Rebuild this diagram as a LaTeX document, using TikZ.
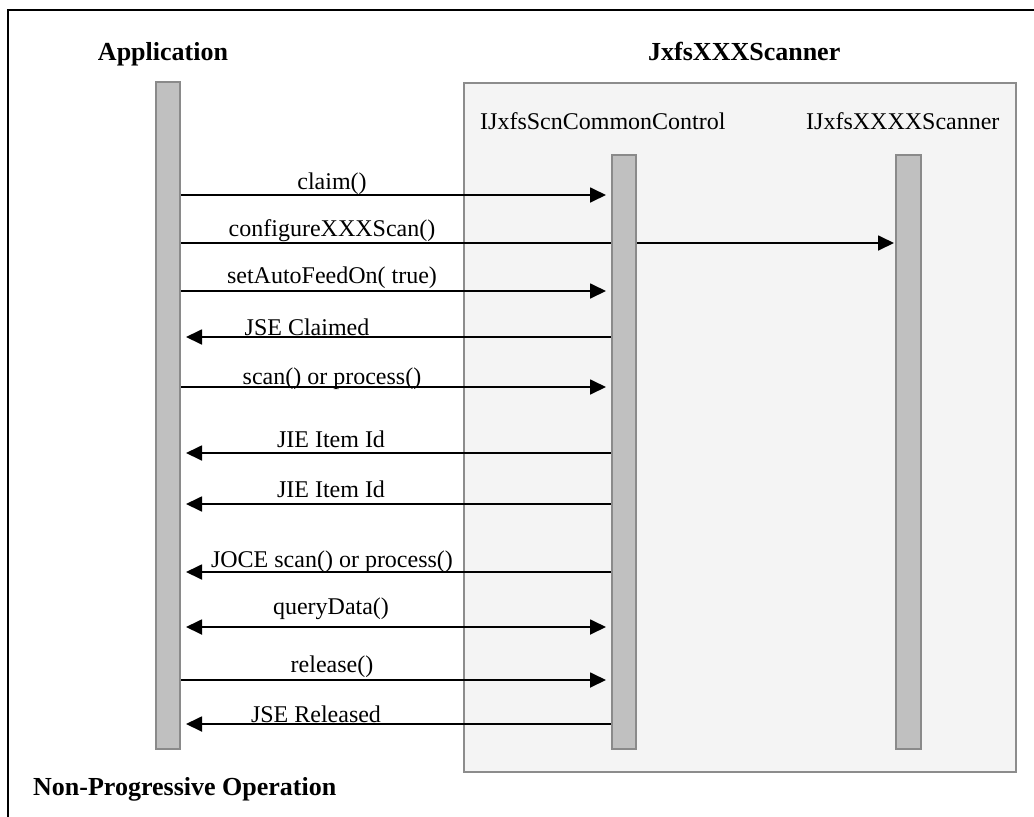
\documentclass[tikz,border=0pt]{standalone}
\usepackage{fontspec}
\setmainfont{Liberation Serif}
\usetikzlibrary{arrows.meta}
\definecolor{barfill}{HTML}{C0C0C0}
\definecolor{barline}{HTML}{8A8A8A}
\definecolor{boxfill}{HTML}{F4F4F4}
\definecolor{boxline}{HTML}{8C8C8C}
\pgfdeclarelayer{back}
\pgfdeclarelayer{mid}
\pgfsetlayers{back,mid,main}
\begin{document}
\begin{tikzpicture}[x=1pt,y=-1pt,
  lifebar/.style={draw=barline,fill=barfill,line width=2pt,inner sep=0pt,minimum width=24pt},
  groupbox/.style={draw=boxline,fill=boxfill,line width=2pt,inner sep=0pt},
  title/.style={font=\fontsize{26}{30}\selectfont\bfseries,inner sep=0pt},
  objname/.style={font=\fontsize{24}{28}\selectfont,inner sep=0pt,anchor=base west},
  msglabel/.style={font=\fontsize{24}{28}\selectfont,inner sep=0pt,anchor=base},
  msg/.style={line width=1.8pt,-{Triangle[length=16pt,width=15pt]},shorten >=5pt},
  twoway/.style={line width=1.8pt,{Triangle[length=16pt,width=15pt]}-{Triangle[length=16pt,width=15pt]},shorten >=5pt,shorten <=5pt}]
\useasboundingbox (0,0) rectangle (1034,817);

% page background and component group
\begin{pgfonlayer}{back}
\fill[white] (0,0) rectangle (1034,817);
\node[groupbox,minimum width=552pt,minimum height=689pt] (grp) at (740,427.5) {};
\end{pgfonlayer}

% outer frame, open to the right and below
\draw[line width=2.2pt] (8,10) rectangle (1045,830);

% titles
\node[title,anchor=base] (tapp) at (163,60) {Application};
\node[title,anchor=base west] (tscn) at (648,60) {JxfsXXXScanner};
\node[title,anchor=base west] (tmode) at (33,795) {Non-Progressive Operation};
\node[objname] (nctl) at (480,129) {IJxfsScnCommonControl};
\node[objname] (nscn) at (806,129) {IJxfsXXXXScanner};

% lifelines
\node[lifebar,minimum height=667pt] (app) at (168,415.5) {};
\node[lifebar,minimum height=594pt] (ctl) at (624,452) {};
\node[lifebar,minimum height=594pt,minimum width=25pt] (scn) at (908.5,452) {};

% messages
\begin{pgfonlayer}{mid}
\draw[msg] (app.east |- 0,195) -- (ctl.west |- 0,195);
\draw[msg,shorten >=1pt] (app.east |- 0,243) -- (scn.west |- 0,243);
\draw[msg] (app.east |- 0,291) -- (ctl.west |- 0,291);
\draw[msg] (ctl.west |- 0,337) -- (app.east |- 0,337);
\draw[msg] (app.east |- 0,387) -- (ctl.west |- 0,387);
\draw[msg] (ctl.west |- 0,453) -- (app.east |- 0,453);
\draw[msg] (ctl.west |- 0,504) -- (app.east |- 0,504);
\draw[msg] (ctl.west |- 0,572) -- (app.east |- 0,572);
\draw[twoway] (app.east |- 0,627) -- (ctl.west |- 0,627);
\draw[msg] (app.east |- 0,680) -- (ctl.west |- 0,680);
\draw[msg] (ctl.west |- 0,724) -- (app.east |- 0,724);
\end{pgfonlayer}

% message labels
\node[msglabel] (l1) at (332,189) {claim()};
\node[msglabel] (l2) at (332,236) {configureXXXScan()};
\node[msglabel] (l3) at (332,283) {setAutoFeedOn( true)};
\node[msglabel] (l4) at (307,335) {JSE Claimed};
\node[msglabel] (l5) at (332,384) {scan() or process()};
\node[msglabel] (l6) at (331,447) {JIE Item Id};
\node[msglabel] (l7) at (331,497) {JIE Item Id};
\node[msglabel] (l8) at (332,567) {JOCE scan() or process()};
\node[msglabel] (l9) at (331,614) {queryData()};
\node[msglabel] (l10) at (332,672) {release()};
\node[msglabel] (l11) at (316,722) {JSE Released};
\end{tikzpicture}
\end{document}
